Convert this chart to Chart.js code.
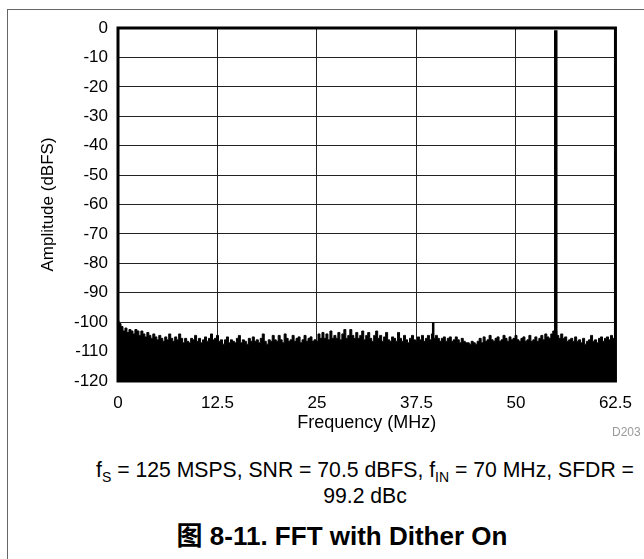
<!DOCTYPE html>
<html>
<head>
<meta charset="utf-8">
<script src="https://cdn.jsdelivr.net/npm/chart.js@4"></script>
<style>
  html, body { margin: 0; padding: 0; background: #fff; }
  #page { position: relative; width: 644px; height: 559px; overflow: hidden; background: #fff;
          font-family: "Liberation Sans", Arial, sans-serif; color: #000; }
  #frame { position: absolute; left: 7px; top: 9px; width: 700px; height: 600px; border: 1px solid #666; }
  #wrap { position: absolute; left: 0; top: 0; width: 644px; height: 440px; }
  .txt { position: absolute; white-space: nowrap; transform: translateX(-50%); }
  sub { font-size: 14px; vertical-align: -5px; line-height: 0; }
</style>
</head>
<body>
<div id="page">
  <div id="frame"></div>
  <div id="wrap"><canvas id="c" width="644" height="440"></canvas></div>
  <div class="txt" style="top:425px; font-size:12px; color:#9a9a9a; transform:none; left:612px;">D203</div>
  <div class="txt" style="left:365px; top:458px; font-size:21.2px; line-height:24px;">f<sub>S</sub> = 125 MSPS, SNR = 70.5 dBFS, f<sub>IN</sub> = 70 MHz, SFDR =</div>
  <div class="txt" style="left:365px; top:484px; font-size:21.2px; line-height:24px;">99.2 dBc</div>
  <div class="txt" style="left:342px; top:521px; font-size:26px; line-height:30px; font-weight:bold; font-family:'Liberation Sans', Arial, 'Noto Sans CJK SC', sans-serif;">图 8-11. FFT with Dither On</div>
</div>
<script>
// ---- data ----
const freqStartMHz = 0;
const freqStepMHz = 0.25;           // FFT display bin spacing
const noiseFloorDBFS = [
  -99.5, -100.5, -101.5, -103, -102, -103.5, -102.5, -103, -104, -102.5,
  -103, -104.5, -103, -104, -105, -103.5, -104.5, -105.5, -104, -105,
  -106, -104.5, -105.5, -106.5, -105, -106, -104, -105.5, -106.5, -105,
  -106, -104, -105.5, -107, -105.5, -106.5, -107, -105.5, -106, -104.5,
  -106.5, -105.5, -107, -106, -105, -106.5, -105.5, -104, -106, -105.5,
  -104.5, -106.5, -106, -107.5, -106, -105, -107, -106, -106.5, -107,
  -105.5, -104.5, -107, -106, -106.5, -107.5, -105.5, -106.5, -105, -106.5,
  -106, -107, -105.5, -104, -106.5, -107.5, -106, -106.5, -104.5, -106,
  -106.5, -104.5, -106, -107, -104, -105.5, -106.5, -106, -104.5, -106.5,
  -105.5, -105, -107, -106, -104.5, -106.5, -105.5, -105, -106.5, -106,
  -106.5, -104, -105.5, -103.5, -105.5, -104, -106, -103, -105.5, -104.5,
  -105.5, -103.5, -106, -104, -102.5, -105.5, -104.5, -102.5, -104.5, -105.5,
  -103.5, -105.5, -104.5, -103, -106, -104.5, -103.5, -105.5, -106.5, -104.5,
  -103, -105.5, -104.5, -106.5, -105, -103.5, -106, -106.5, -105, -105.5,
  -106.5, -103.5, -105.5, -106.5, -104.5, -106, -107, -105.5, -104.5, -106,
  -106.5, -105, -106, -104.5, -106.5, -105.5, -104.5, -106, -104, -105.5,
  -104.5, -105.5, -106.5, -105.5, -105, -106.5, -105.5, -105, -106.5, -106,
  -105, -106, -107, -105.5, -106.5, -107, -107, -107.5, -106.5, -107,
  -107.5, -106.5, -105.5, -107, -105, -106.5, -106, -104.5, -106, -106.5,
  -105.5, -105, -106.5, -106, -104.5, -105.5, -106.5, -105, -106, -105.5,
  -104.5, -106, -106.5, -105.5, -105, -106.5, -106, -104.5, -106.5, -106,
  -105, -106.5, -105.5, -104.5, -106, -104, -105, -105.5, -104, -103,
  -103, -104.5, -105.5, -104, -105.5, -105, -106.5, -106, -105.5, -106.5,
  -105, -106.5, -106, -107, -105.5, -107.5, -106.5, -106, -104.5, -106.5,
  -106, -107, -105.5, -105, -106.5, -105.5, -105, -106, -104.5, -105.5,
  -105.5
];
const toneFreqsMHz = [55, 39.6];      // fundamental (aliased), harmonic spur
const toneLevelsDBFS = [-0.8, -100];
const toneWidths = [3.5, 2.5];
const xTickValues = [0, 12.5, 25, 37.5, 50, 62.5];
const yMin = -120, yMax = 0, yStep = 10;

// ---- build datasets ----
const noisePoints = noiseFloorDBFS.map((v, i) => ({ x: freqStartMHz + i * freqStepMHz, y: v }));
const toneSets = toneFreqsMHz.map((f, k) => ({
  type: 'line',
  data: [{ x: f, y: yMin }, { x: f, y: toneLevelsDBFS[k] }],
  borderColor: '#000', borderWidth: toneWidths[k], pointRadius: 0, fill: false, tension: 0
}));

const frameBox = {
  id: 'frameBox',
  afterDraw(chart) {
    const { ctx, chartArea: a } = chart;
    ctx.save();
    ctx.strokeStyle = '#000';
    ctx.lineWidth = 3;
    ctx.strokeRect(a.left, a.top, a.right - a.left, a.bottom - a.top);
    ctx.restore();
  }
};

const font = { family: "'Liberation Sans', Arial, sans-serif", size: 17, lineHeight: 1.2 };

new Chart(document.getElementById('c'), {
  type: 'line',
  data: {
    datasets: [
      {
        data: noisePoints,
        borderColor: '#000', backgroundColor: '#000', borderWidth: 1,
        pointRadius: 0, fill: 'start', stepped: 'middle', tension: 0
      },
      ...toneSets
    ]
  },
  options: {
    responsive: false,
    animation: false,
    devicePixelRatio: 1,
    layout: { padding: { top: 28, right: 27, left: 0, bottom: 0 } },
    plugins: { legend: { display: false }, tooltip: { enabled: false } },
    scales: {
      x: {
        type: 'linear', min: 0, max: 62.5,
        afterBuildTicks: (s) => { s.ticks = xTickValues.map(v => ({ value: v })); },
        afterFit: (s) => { s.height = 440 - 381; },
        grid: { color: '#222', lineWidth: 1, drawTicks: false },
        border: { display: false },
        ticks: { color: '#000', font, padding: 12, maxRotation: 0, autoSkip: false,
                 callback: (v) => String(v) },
        title: { display: true, text: 'Frequency (MHz)', color: '#000',
                 font: { family: font.family, size: 18, lineHeight: 1.2 }, padding: { top: 0, bottom: 6 } }
      },
      y: {
        type: 'linear', min: yMin, max: yMax,
        afterFit: (s) => { s.width = 118; },
        grid: { color: '#222', lineWidth: 1, drawTicks: false },
        border: { display: false },
        ticks: { color: '#000', font, padding: 10, stepSize: yStep, autoSkip: false },
        title: { display: true, text: 'Amplitude (dBFS)', color: '#000',
                 font: { family: font.family, size: 17, lineHeight: 1.2 }, padding: { top: 38, bottom: 0 } }
      }
    }
  },
  plugins: [frameBox]
});
</script>
</body>
</html>
